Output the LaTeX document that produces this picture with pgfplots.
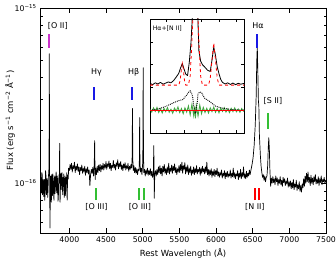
\documentclass[border=0pt]{standalone}
\usepackage{fontspec}
\setmainfont{DejaVu Sans}
\usepackage{pgfplots}
\pgfplotsset{compat=1.18}
\definecolor{mag}{rgb}{0.8,0.2,0.8}
\definecolor{bblue}{rgb}{0.1,0.1,0.9}
\definecolor{bgreen}{rgb}{0.2,0.75,0.2}
\definecolor{rgreen}{rgb}{0.25,0.65,0.25}
\begin{document}
\begin{tikzpicture}
\begin{axis}[
 scale only axis, width=286bp, height=225bp,
 xmin=3600, xmax=7500, ymode=log, ymin=0.52, ymax=10,
 xtick={4000,4500,5000,5500,6000,6500,7000,7500},
 xticklabels={4000,4500,5000,5500,6000,6500,7000,7500},
 ytick={1,10}, yticklabels={10\textsuperscript{−16},10\textsuperscript{−15}},
 minor ytick={0.6,0.7,0.8,0.9,2,3,4,5,6,7,8,9},
 tick align=inside, major tick length=5bp, minor tick length=2.5bp,
 axis line style={line width=0.8bp},
 every tick/.style={black,line width=0.6bp},
 ticklabel style={font=\fontsize{7.8}{9}\selectfont},
 xlabel={Rest Wavelength (Å)},
 ylabel={Flux (erg s\textsuperscript{−1} cm\textsuperscript{−2} Å\textsuperscript{−1})},
 label style={font=\fontsize{8.5}{10}\selectfont},
 xlabel style={at={(axis description cs:0.5,-0.089)},anchor=center},
 ylabel style={at={(axis description cs:-0.105,0.5)},anchor=center},
]
\coordinate (bl) at (rel axis cs:0,0);
\coordinate (tr) at (rel axis cs:1,1);
\addplot[black, line width=0.7bp, line join=round] table {
x y
3600 0.95
3605 0.82
3610 1.08
3615 0.90
3620 0.88
3625 1.15
3630 1.12
3635 0.86
3640 0.92
3645 1.05
3650 0.84
3655 0.97
3660 1.05
3665 0.80
3670 0.90
3675 1.18
3680 1.14
3685 0.88
3690 0.86
3695 1.06
3700 1.02
3705 0.83
3710 0.93
3715 1.12
3720 1.10
3725 2.0
3727 5.48
3730 1.4
3736 0.555
3742 1.0
3746 1.10
3750 0.90
3755 0.78
3760 1.12
3765 0.95
3770 0.85
3775 1.13
3780 1.06
3785 0.88
3790 0.80
3795 1.02
3800 1.10
3805 0.87
3810 0.95
3815 1.07
3820 1.16
3825 0.92
3830 0.88
3835 1.10
3840 1.03
3845 0.79
3850 0.82
3855 1.04
3860 1.12
3864 1.00
3868 1.69
3872 1.00
3874 0.78
3878 0.95
3880 1.05
3885 1.14
3890 0.92
3895 1.05
3900 1.15
3905 0.96
3910 0.86
3915 1.08
3920 1.04
3925 1.13
3930 0.83
3935 0.96
3940 1.10
3945 0.85
3950 0.90
3955 1.08
3960 0.99
3965 1.15
3970 0.80
3975 1.00
3980 1.12
3985 1.06
3990 1.22
4000 1.18
4010 1.28
4020 1.20
4030 1.30
4040 1.16
4050 1.26
4060 1.21
4070 1.32
4080 1.15
4090 1.25
4100 1.19
4110 1.29
4120 1.17
4130 1.24
4140 1.12
4150 1.23
4160 1.18
4170 1.27
4180 1.14
4190 1.22
4200 1.16
4210 1.25
4220 1.11
4230 1.21
4240 1.15
4250 1.24
4260 1.13
4270 1.19
4280 0.97
4290 1.12
4300 1.20
4310 1.14
4320 1.23
4330 1.10
4340 1.30
4345 1.75
4352 1.05
4360 1.22
4370 1.12
4380 1.25
4390 1.15
4400 1.27
4410 1.18
4420 1.28
4430 1.16
4440 1.26
4450 1.20
4460 1.30
4470 1.19
4480 1.28
4490 1.22
4500 1.33
4510 1.20
4520 1.29
4530 1.24
4540 1.34
4550 1.21
4560 1.30
4570 1.18
4580 1.27
4590 1.23
4600 1.35
4610 1.22
4620 1.28
4630 1.19
4640 1.31
4650 1.25
4660 1.36
4670 1.21
4680 1.30
4690 1.24
4700 1.33
4710 1.20
4720 1.27
4730 1.18
4740 1.29
4750 1.22
4760 1.31
4770 1.19
4780 1.26
4790 1.21
4800 1.30
4810 1.17
4820 1.25
4830 1.20
4840 1.28
4850 1.22
4856 1.40
4861 2.67
4866 1.35
4872 1.18
4880 1.26
4890 1.15
4900 1.23
4910 1.14
4920 1.21
4930 1.12
4940 1.20
4950 1.18
4955 1.35
4959 2.37
4963 1.30
4970 1.16
4980 1.22
4990 1.12
5000 1.30
5003 1.6
5007 4.56
5011 1.5
5016 1.15
5025 1.20
5035 1.10
5045 1.19
5055 1.13
5065 1.22
5075 1.11
5085 1.18
5095 1.12
5105 1.21
5115 1.10
5125 1.17
5135 1.08
5145 1.15
5152 1.64
5158 0.82
5165 1.12
5175 1.18
5185 1.10
5195 1.20
5205 1.12
5215 1.24
5225 1.15
5235 1.26
5245 1.13
5255 1.22
5265 1.10
5275 1.25
5285 1.16
5295 1.28
5305 1.14
5315 1.21
5325 1.12
5335 1.24
5345 1.15
5355 1.30
5365 1.13
5375 1.22
5385 1.17
5395 1.27
5405 1.14
5415 1.25
5425 1.18
5435 1.29
5445 1.15
5455 1.23
5465 1.12
5475 1.21
5485 1.16
5495 1.26
5505 1.15
5515 1.28
5525 1.18
5535 1.32
5545 1.14
5555 1.26
5565 1.20
5575 1.31
5585 1.13
5595 1.24
5605 1.16
5615 1.27
5625 1.12
5635 1.22
5645 1.15
5655 1.25
5665 1.11
5675 1.19
5685 1.14
5695 1.24
5705 1.12
5715 1.21
5725 1.15
5735 1.26
5745 1.13
5755 1.20
5765 1.16
5775 1.23
5785 1.11
5795 1.22
5805 1.14
5815 1.25
5825 1.16
5835 1.21
5845 1.13
5855 1.24
5865 1.15
5875 1.32
5885 1.12
5895 1.20
5905 1.10
5915 1.19
5925 1.12
5935 1.21
5945 1.08
5955 1.17
5965 1.11
5975 1.20
5985 1.09
5995 1.18
6005 1.12
6015 1.22
6025 1.10
6035 1.16
6045 1.08
6055 1.15
6065 1.11
6075 1.19
6085 1.07
6095 1.14
6105 1.10
6115 1.18
6125 1.06
6135 1.15
6145 1.09
6155 1.17
6165 1.08
6175 1.13
6185 1.10
6195 1.19
6205 1.07
6215 1.14
6225 1.09
6235 1.22
6245 1.08
6255 1.15
6265 1.06
6275 1.13
6285 1.10
6295 1.18
6305 1.05
6315 1.14
6325 1.08
6335 1.20
6345 1.06
6355 1.15
6365 1.09
6375 1.24
6385 1.07
6395 1.13
6405 1.06
6415 1.17
6425 1.08
6435 1.14
6445 1.10
6455 1.19
6465 1.12
6475 1.18
6490 1.27
6505 1.39
6520 1.64
6535 2.14
6548 3.16
6556 5.00
6563 6.08
6570 4.39
6578 2.96
6584 2.77
6592 1.87
6605 1.44
6615 1.25
6625 1.15
6635 1.08
6645 1.12
6655 1.04
6665 1.10
6675 1.02
6685 1.08
6695 1.10
6705 1.27
6714 1.64
6720 1.82
6728 1.54
6735 1.19
6745 0.96
6755 1.07
6765 1.00
6775 1.09
6785 1.01
6795 1.06
6805 0.98
6815 1.10
6825 1.02
6835 1.07
6845 0.97
6855 1.05
6865 1.00
6875 1.09
6885 0.98
6895 1.04
6905 0.96
6915 1.08
6925 1.01
6935 1.06
6945 0.97
6955 1.03
6965 0.99
6975 1.07
6985 0.95
6995 1.02
7005 0.96
7015 1.03
7025 0.93
7035 1.01
7045 0.94
7055 1.05
7065 0.92
7075 0.99
7085 0.95
7095 1.04
7105 0.91
7115 0.98
7125 0.93
7135 1.02
7145 0.90
7155 0.97
7165 0.89
7175 0.99
7185 0.94
7195 1.06
7205 0.96
7215 1.10
7225 1.00
7235 1.14
7245 1.02
7255 1.16
7265 1.01
7275 1.08
7285 0.97
7295 1.11
7305 1.00
7315 1.07
7325 0.98
7335 1.09
7345 1.02
7355 1.12
7365 0.99
7375 1.05
7385 1.00
7395 1.09
7405 0.97
7415 1.06
7425 1.01
7435 1.10
7445 0.98
7455 1.05
7465 1.02
7475 1.08
7485 1.00
7495 1.04
7500 1.02
};
% line markers
\addplot[mag, line width=2bp] coordinates {(3727,5.93) (3727,7.11)};
\addplot[bblue, line width=2bp] coordinates {(4340,3.00) (4340,3.56)};
\addplot[bblue, line width=2bp] coordinates {(4861,3.00) (4861,3.56)};
\addplot[bblue, line width=2bp] coordinates {(6558,5.93) (6558,7.11)};
\addplot[bgreen, line width=2bp] coordinates {(6705,2.05) (6705,2.53)};
\addplot[bgreen, line width=2bp] coordinates {(4363,0.80) (4363,0.937)};
\addplot[bgreen, line width=2bp] coordinates {(4952,0.80) (4952,0.937)};
\addplot[bgreen, line width=2bp] coordinates {(5012,0.80) (5012,0.937)};
\addplot[red, line width=2bp] coordinates {(6536,0.80) (6536,0.937)};
\addplot[red, line width=2bp] coordinates {(6580,0.80) (6580,0.937)};
\begin{scope}[every node/.style={font=\fontsize{8}{9.6}\selectfont, inner sep=0pt}]
\node at (axis cs:3843,7.90) {[O II]};
\node at (axis cs:4370,4.27) {Hγ};
\node at (axis cs:4876,4.27) {Hβ};
\node at (axis cs:6572,7.90) {Hα};
\node at (axis cs:6776,2.96) {[S II]};
\node at (axis cs:4370,0.730) {[O III]};
\node at (axis cs:4962,0.730) {[O III]};
\node at (axis cs:6530,0.730) {[N II]};
\end{scope}
\end{axis}

\begin{axis}[
 at={(110bp,100bp)}, anchor=south west,
 scale only axis, width=94.3bp, height=114bp,
 xmin=6511, xmax=6619, ymin=-1, ymax=4,
 xtick={6530,6550,6570,6590,6610}, ytick={0,1,2,3},
 xticklabels={}, yticklabels={},
 tick align=inside, major tick length=3bp,
 axis line style={line width=0.8bp},
 every tick/.style={black,line width=0.6bp},
 axis background/.style={fill=white},
]
\addplot[rgreen, line width=0.9bp] table {
x y
6511 0.05
6513 -0.08
6515 0.10
6517 -0.05
6519 0.12
6521 -0.10
6523 0.06
6525 -0.12
6527 0.08
6529 -0.06
6531 0.11
6533 -0.09
6535 0.04
6537 -0.13
6539 0.09
6541 -0.05
6543 0.14
6545 -0.10
6547 0.07
6549 -0.15
6551 0.10
6553 -0.08
6555 0.18
6557 -0.20
6559 0.25
6561 -0.22
6562 0.15
6563 -0.36
6564 0.20
6566 -0.25
6568 0.22
6570 -0.15
6572 0.12
6574 -0.10
6576 0.08
6578 -0.12
6580 0.10
6582 -0.06
6584 0.13
6586 -0.09
6588 0.07
6590 -0.11
6592 0.09
6594 -0.05
6596 0.11
6598 -0.08
6600 0.06
6602 -0.10
6604 0.08
6606 -0.06
6608 0.10
6610 -0.07
6612 0.05
6614 -0.09
6616 0.07
6618 -0.04
6619 0.02
};
\addplot[black, densely dotted, line width=0.9bp] table {
x y
6511 0.00
6516 0.03
6520 0.05
6524 0.10
6528 0.15
6532 0.22
6536 0.29
6540 0.36
6543 0.41
6546 0.44
6549 0.47
6551 0.58
6553 0.66
6555 0.78
6557 0.85
6559 0.70
6560 0.55
6561 0.20
6563 -0.15
6565 0.30
6566 0.73
6568 0.80
6570 0.78
6572 0.62
6574 0.51
6577 0.44
6580 0.37
6583 0.27
6586 0.18
6590 0.13
6593 0.10
6599 0.06
6605 0.03
6612 0.01
6619 0.00
};
\addplot[red, line width=0.8bp] coordinates {(6511,0) (6619,0)};
\addplot[black, line width=0.8bp, line join=round] table {
x y
6511 1.18
6514 1.12
6517 1.20
6520 1.15
6523 1.22
6526 1.14
6529 1.19
6532 1.24
6535 1.20
6538 1.30
6541 1.45
6544 1.62
6546 1.85
6548 2.05
6550 1.80
6552 1.58
6554 1.52
6556 2.10
6558 3.0
6560 4.5
6563 6.0
6565 5.0
6567 2.6
6569 2.15
6571 2.0
6574 1.88
6577 1.75
6580 1.70
6582 2.2
6584 2.78
6586 2.4
6588 1.9
6590 1.6
6592 1.35
6594 1.22
6597 1.15
6600 1.20
6603 1.13
6606 1.19
6609 1.12
6612 1.18
6615 1.14
6618 1.17
6619 1.15
};
\addplot[red, dashed, line width=0.8bp] table {
x y
6511 1.10
6544 1.10
6545.5 1.30
6547 1.80
6548 2.05
6549 1.85
6550.5 1.30
6552 1.10
6555 1.10
6557 1.50
6559 3.00
6561 5.00
6563 7.00
6565 5.00
6567 3.00
6569 1.50
6571 1.10
6578 1.10
6580 1.40
6582 2.20
6584 2.95
6586 2.20
6588 1.40
6590 1.10
6619 1.10
};
\node[anchor=west, inner sep=0pt, font=\fontsize{6.2}{7}\selectfont] at (axis cs:6514,3.58) {Hα+[N II]};
\end{axis}
\pgfresetboundingbox
\path ([xshift=-40bp,yshift=-26bp]bl) rectangle ([xshift=10bp,yshift=8bp]tr);
\end{tikzpicture}
\end{document}
